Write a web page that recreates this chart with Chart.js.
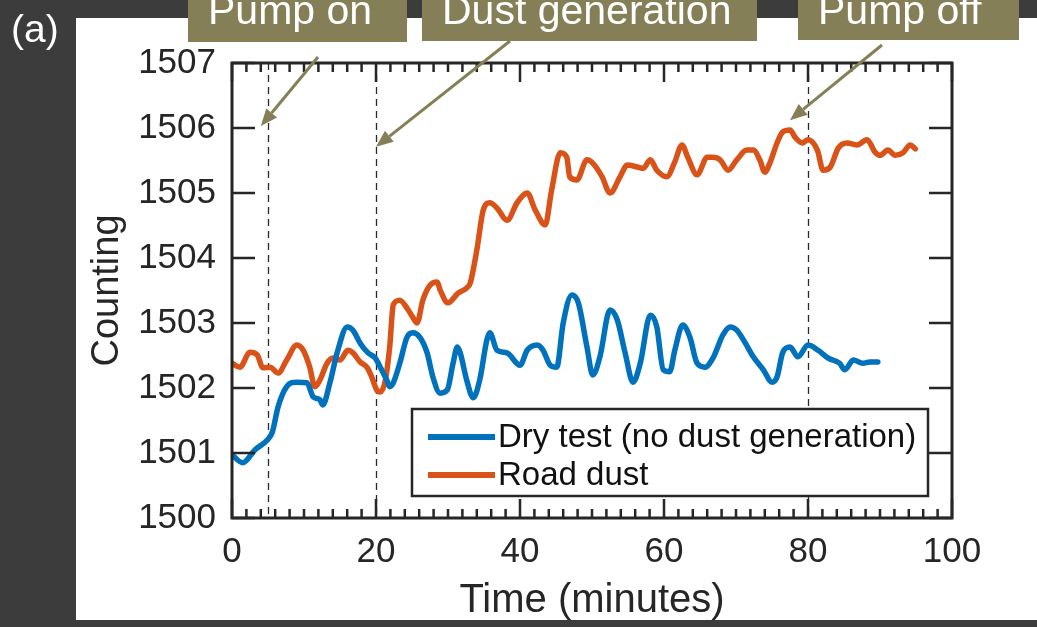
<!DOCTYPE html>
<html>
<head>
<meta charset="utf-8">
<script src="https://cdn.jsdelivr.net/npm/chart.js@4"></script>
<style>
  html, body { margin: 0; padding: 0; background: #3c3c3c; }
  #chart { display: block; }
</style>
</head>
<body>
<canvas id="chart" width="1037" height="627"></canvas>
<script>
// Dry test (no dust generation) - minutes / counting
const dryTime = [
  0, 1.5, 3.2, 4.9, 5.6, 6.4, 7.6, 9.0, 10.4, 11.3,
  12.2, 12.6, 13.6, 14.6, 16.0, 16.8, 17.8, 18.9, 19.9, 20.6,
  21.5, 21.9, 22.4, 23.3, 24.3, 25.1, 26.1, 27.1, 27.9, 28.9,
  29.9, 30.7, 31.3, 31.7, 32.6, 33.5, 34.4, 35.4, 35.8, 36.8,
  38.2, 40.0, 41.0, 42.4, 43.2, 44.2, 45.1, 46.0, 47.2, 48.1,
  49.3, 50.1, 51.1, 52.5, 53.5, 54.6, 55.7, 56.7, 58.1, 59.0,
  59.9, 60.8, 61.5, 62.6, 63.6, 64.6, 65.7, 66.8, 68.2, 69.2,
  70.1, 71.3, 72.4, 73.8, 75.0, 75.7, 76.5, 77.5, 78.6, 80.0,
  81.4, 82.8, 84.4, 85.1, 86.3, 87.6, 88.6, 89.7
];
const dryCount = [
  1500.97, 1500.85, 1501.05, 1501.20, 1501.32, 1501.71, 1502.02, 1502.09, 1502.08, 1501.86,
  1501.82, 1501.74, 1502.08, 1502.54, 1502.94, 1502.89, 1502.69, 1502.54, 1502.46, 1502.32,
  1502.12, 1502.02, 1502.08, 1502.38, 1502.78, 1502.85, 1502.78, 1502.54, 1502.17, 1501.92,
  1501.97, 1502.38, 1502.63, 1502.54, 1502.12, 1501.85, 1502.12, 1502.74, 1502.85, 1502.58,
  1502.54, 1502.35, 1502.58, 1502.66, 1502.58, 1502.35, 1502.32, 1503.00, 1503.43, 1503.31,
  1502.63, 1502.20, 1502.48, 1503.20, 1503.05, 1502.54, 1502.09, 1502.38, 1503.12, 1502.94,
  1502.28, 1502.25, 1502.58, 1502.97, 1502.78, 1502.38, 1502.32, 1502.46, 1502.82, 1502.94,
  1502.89, 1502.69, 1502.48, 1502.28, 1502.09, 1502.17, 1502.55, 1502.63, 1502.48, 1502.66,
  1502.58, 1502.46, 1502.38, 1502.28, 1502.43, 1502.38, 1502.40, 1502.40
];

// Road dust
const roadTime = [
  0, 1.1, 2.5, 3.5, 4.3, 5.3, 6.4, 7.6, 9.0, 9.9,
  10.8, 11.5, 12.2, 13.2, 14.0, 15.0, 16.1, 16.8, 17.8, 18.8,
  19.4, 20.1, 20.6, 21.3, 21.9, 22.4, 23.3, 24.3, 25.1, 25.7,
  26.5, 27.5, 28.5, 28.9, 30.0, 31.4, 32.6, 33.1, 34.0, 34.9,
  35.8, 36.8, 38.2, 39.6, 41.0, 42.1, 43.5, 44.4, 45.6, 46.5,
  46.9, 47.9, 49.3, 50.1, 51.4, 52.5, 53.9, 54.9, 56.3, 57.1,
  58.1, 59.0, 60.4, 61.5, 62.5, 63.3, 64.6, 66.0, 66.8, 67.8,
  68.9, 70.1, 71.5, 72.4, 73.3, 74.0, 74.7, 75.7, 76.5, 77.5,
  78.2, 79.2, 80.0, 81.3, 82.1, 83.1, 84.2, 85.4, 86.8, 88.2,
  89.3, 90.0, 91.1, 92.1, 93.2, 94.2, 94.9
];
const roadCount = [
  1502.38, 1502.32, 1502.55, 1502.51, 1502.31, 1502.32, 1502.23, 1502.43, 1502.66, 1502.58,
  1502.32, 1502.02, 1502.12, 1502.38, 1502.46, 1502.43, 1502.58, 1502.54, 1502.40, 1502.31,
  1502.17, 1501.97, 1501.94, 1502.12, 1502.63, 1503.28, 1503.35, 1503.23, 1503.09, 1503.00,
  1503.35, 1503.58, 1503.63, 1503.51, 1503.31, 1503.46, 1503.54, 1503.62, 1504.12, 1504.74,
  1504.85, 1504.77, 1504.58, 1504.85, 1505.00, 1504.74, 1504.51, 1505.05, 1505.62, 1505.55,
  1505.25, 1505.20, 1505.51, 1505.46, 1505.25, 1505.00, 1505.25, 1505.43, 1505.40, 1505.38,
  1505.51, 1505.35, 1505.25, 1505.48, 1505.74, 1505.55, 1505.28, 1505.55, 1505.55, 1505.51,
  1505.35, 1505.51, 1505.66, 1505.66, 1505.51, 1505.32, 1505.46, 1505.77, 1505.94, 1505.97,
  1505.86, 1505.77, 1505.82, 1505.66, 1505.35, 1505.40, 1505.69, 1505.77, 1505.74, 1505.82,
  1505.63, 1505.58, 1505.66, 1505.58, 1505.62, 1505.74, 1505.68
];

const seriesNames = ['Dry test (no dust generation)', 'Road dust'];
const xTicks = [0, 20, 40, 60, 80, 100];
const yTicks = [1500, 1501, 1502, 1503, 1504, 1505, 1506, 1507];

// vertical event markers and the callouts pointing at them
const eventTimes = [5, 20, 80];
const eventLabels = ['Pump on', 'Dust generation', 'Pump off'];
const eventTipTime = [4.0, 20, 77.5];
const eventTipCount = [1506.03, 1505.71, 1506.12];

const FONT = '"Liberation Sans", Arial, sans-serif';
const INK = '#262626';
const BLUE = '#0072BD';
const ORANGE = '#D95319';
const OLIVE = '#857F57';

function toPoints(xs, ys) {
  return xs.map((t, i) => ({ x: t, y: ys[i] }));
}

const framePlugin = {
  id: 'frame',
  beforeDraw(chart) {
    const ctx = chart.ctx;
    ctx.save();
    ctx.fillStyle = '#3c3c3c';
    ctx.fillRect(0, 0, chart.width, chart.height);
    ctx.fillStyle = '#ffffff';
    ctx.fillRect(76, 18, chart.width - 76, 602);
    ctx.restore();
  },
  beforeDatasetsDraw(chart) {
    const { ctx, chartArea: a, scales: { x } } = chart;
    ctx.save();
    ctx.strokeStyle = '#2a2a2a';
    ctx.lineWidth = 1.3;
    ctx.setLineDash([7, 5]);
    eventTimes.forEach(t => {
      const px = Math.round(x.getPixelForValue(t)) + 0.5;
      ctx.beginPath();
      ctx.moveTo(px, a.top);
      ctx.lineTo(px, a.bottom);
      ctx.stroke();
    });
    ctx.restore();
  },
  afterDatasetsDraw(chart) {
    const { ctx, chartArea: a, scales: { x, y } } = chart;
    ctx.save();
    ctx.strokeStyle = INK;
    ctx.lineCap = 'butt';

    // inward ticks, minor every 2 minutes on x
    ctx.lineWidth = 2.5;
    for (let t = 0; t <= 100; t += 2) {
      const px = x.getPixelForValue(t);
      const len = xTicks.includes(t) ? 19 : 9;
      ctx.beginPath();
      ctx.moveTo(px, a.bottom); ctx.lineTo(px, a.bottom - len);
      ctx.moveTo(px, a.top); ctx.lineTo(px, a.top + len);
      ctx.stroke();
    }
    yTicks.forEach(v => {
      const py = y.getPixelForValue(v);
      ctx.beginPath();
      ctx.moveTo(a.left, py); ctx.lineTo(a.left + 23, py);
      ctx.moveTo(a.right, py); ctx.lineTo(a.right - 23, py);
      ctx.stroke();
    });

    // axes box
    ctx.lineWidth = 3;
    ctx.strokeRect(a.left, a.top, a.right - a.left, a.bottom - a.top);

    // legend
    const lx = 412, ly = 409, lw = 516, lh = 87;
    ctx.fillStyle = '#fff';
    ctx.fillRect(lx, ly, lw, lh);
    ctx.lineWidth = 2.5;
    ctx.strokeRect(lx, ly, lw, lh);
    ctx.font = '33px ' + FONT;
    ctx.textBaseline = 'middle';
    ctx.textAlign = 'left';
    chart.data.datasets.forEach((ds, i) => {
      const ry = ly + 28 + i * 38;
      ctx.strokeStyle = ds.borderColor;
      ctx.lineWidth = 6;
      ctx.beginPath();
      ctx.moveTo(428, ry); ctx.lineTo(495, ry);
      ctx.stroke();
      ctx.fillStyle = '#111';
      ctx.fillText(ds.label, 498, ry + 1);
    });
    ctx.restore();
  },
  afterDraw(chart) {
    const { ctx, scales: { x, y } } = chart;
    const boxes = [[188, 0, 219, 42], [422, 0, 335, 41], [798, 0, 221, 40]];
    const starts = [[318, 57], [510, 41], [882, 45]];
    ctx.save();
    eventLabels.forEach((label, i) => {
      const [bx, by, bw, bh] = boxes[i];
      ctx.fillStyle = OLIVE;
      ctx.fillRect(bx, by, bw, bh);
      ctx.fillStyle = '#fff';
      ctx.font = '41px ' + FONT;
      ctx.textAlign = 'left';
      ctx.textBaseline = 'alphabetic';
      ctx.fillText(label, bx + 20, 24);

      // arrow
      const [sx, sy] = starts[i];
      const tx = x.getPixelForValue(eventTipTime[i]);
      const ty = y.getPixelForValue(eventTipCount[i]);
      const ang = Math.atan2(ty - sy, tx - sx);
      const hl = 17, hw = 7;
      const bxp = tx - hl * Math.cos(ang), byp = ty - hl * Math.sin(ang);
      ctx.strokeStyle = OLIVE;
      ctx.lineWidth = 3;
      ctx.beginPath();
      ctx.moveTo(sx, sy);
      ctx.lineTo(bxp, byp);
      ctx.stroke();
      ctx.fillStyle = OLIVE;
      ctx.beginPath();
      ctx.moveTo(tx, ty);
      ctx.lineTo(bxp + hw * Math.sin(ang), byp - hw * Math.cos(ang));
      ctx.lineTo(bxp - hw * Math.sin(ang), byp + hw * Math.cos(ang));
      ctx.closePath();
      ctx.fill();
    });

    ctx.fillStyle = '#fff';
    ctx.font = '39px ' + FONT;
    ctx.textAlign = 'left';
    ctx.textBaseline = 'alphabetic';
    ctx.fillText('(a)', 11, 42);
    ctx.restore();
  }
};

new Chart(document.getElementById('chart'), {
  type: 'line',
  data: {
    datasets: [
      {
        label: seriesNames[0],
        data: toPoints(dryTime, dryCount),
        borderColor: BLUE,
        borderWidth: 5.5,
        pointRadius: 0,
        cubicInterpolationMode: 'monotone',
        borderJoinStyle: 'round',
        borderCapStyle: 'round',
        fill: false
      },
      {
        label: seriesNames[1],
        data: toPoints(roadTime, roadCount),
        borderColor: ORANGE,
        borderWidth: 5.5,
        pointRadius: 0,
        cubicInterpolationMode: 'monotone',
        borderJoinStyle: 'round',
        borderCapStyle: 'round',
        fill: false
      }
    ]
  },
  options: {
    responsive: false,
    animation: false,
    events: [],
    layout: { padding: { left: 76, top: 63, right: 85, bottom: 0 } },
    plugins: { legend: { display: false }, tooltip: { enabled: false } },
    scales: {
      x: {
        type: 'linear',
        min: 0,
        max: 100,
        afterFit: s => { s.height = 109; },
        afterBuildTicks: s => { s.ticks = xTicks.map(v => ({ value: v })); },
        ticks: {
          color: INK,
          font: { family: FONT, size: 35 },
          padding: 13,
          maxRotation: 0,
          autoSkip: false,
          callback: v => String(v)
        },
        grid: { display: false, drawTicks: false },
        border: { display: false },
        title: {
          display: true,
          text: 'Time (minutes)',
          color: INK,
          font: { family: FONT, size: 40 },
          padding: { top: 0, bottom: 2 }
        }
      },
      y: {
        min: 1500,
        max: 1507,
        afterFit: s => { s.width = 156; },
        afterBuildTicks: s => { s.ticks = yTicks.map(v => ({ value: v })); },
        ticks: {
          color: INK,
          font: { family: FONT, size: 35 },
          padding: 16,
          autoSkip: false,
          callback: v => String(v)
        },
        grid: { display: false, drawTicks: false },
        border: { display: false },
        title: {
          display: true,
          text: 'Counting',
          color: INK,
          font: { family: FONT, size: 38 },
          padding: { top: 9, bottom: 0 }
        }
      }
    }
  },
  plugins: [framePlugin]
});
</script>
</body>
</html>
